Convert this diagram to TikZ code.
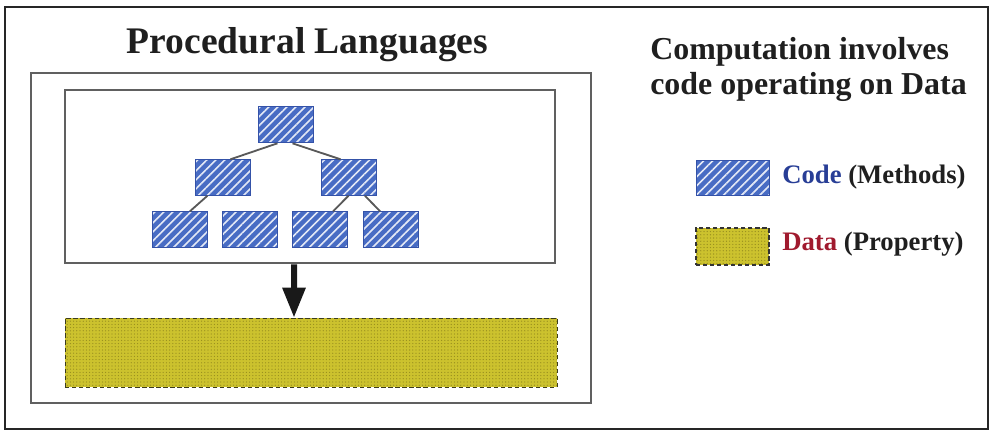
\documentclass[tikz,border=0pt]{standalone}
\usepackage{fontspec}
\setmainfont{Liberation Serif}
\usepackage{xcolor}
\usetikzlibrary{arrows.meta,positioning,patterns.meta}

\definecolor{codeblue}{RGB}{72,108,196}
\definecolor{codeedge}{RGB}{52,82,168}
\definecolor{datayellow}{RGB}{204,194,46}
\definecolor{datadot}{RGB}{150,140,30}
\definecolor{dataedge}{RGB}{60,60,30}
\definecolor{codetext}{RGB}{40,62,150}
\definecolor{datatext}{RGB}{160,26,46}
\definecolor{framegray}{RGB}{96,96,96}

\begin{document}
\begin{tikzpicture}[x=0.25mm, y=-0.25mm,
    codebox/.style={draw=codeedge, line width=0.3pt, inner sep=0pt,
        minimum width=13.75mm, minimum height=9mm,
        preaction={fill=codeblue},
        pattern={Lines[angle=45,distance=1.6mm,line width=0.4mm]},
        pattern color=white!85!codeblue},
    databox/.style={draw=dataedge, densely dashed, line width=0.5pt, inner sep=0pt,
        preaction={fill=datayellow},
        pattern={Dots[distance=0.8mm,radius=0.16mm]},
        pattern color=datadot},
    frame/.style={draw=framegray, line width=1.8pt, inner sep=0pt},
    link/.style={draw=black!65, line width=1.3pt}]
    \useasboundingbox (0,0) rectangle (990,430);

    % 外枠
    \draw[black!85, line width=1.1pt] (5,7) rectangle (988,429);

    % 見出し
    \node[anchor=base, inner sep=0pt, font=\bfseries\fontsize{26.7}{30}\selectfont,
        text=black!88] (title) at (307.5,53) {Procedural Languages};
    \node[anchor=north west, inner sep=0pt, align=left,
        font=\bfseries\fontsize{22.7}{24.9}\selectfont, text=black!88]
        (note) at (650,37) {Computation involves\\code operating on Data};

    % 枠
    \node[frame, minimum width=140mm, minimum height=82.5mm] (prog) at (311,238) {};
    \node[frame, minimum width=122.5mm, minimum height=43.25mm] (tree) at (310,176.5) {};

    % 層 0
    \node[codebox] (0) at (285.5,124.5) {};

    % 層 1
    \node[codebox] (1-0) at (222.5,177.5) {};
    \node[codebox] (1-1) at (348.5,177.5) {};

    % 層 2
    \node[codebox] (2-0) at (179.5,229.5) {};
    \node[codebox] (2-1) at (249.5,229.5) {};
    \node[codebox] (2-2) at (319.5,229.5) {};
    \node[codebox] (2-3) at (390.5,229.5) {};

    % 呼び出し
    \draw[link] ([xshift=-2mm]0.south) -- ([xshift=2mm]1-0.north);
    \draw[link] ([xshift=1.75mm]0.south) -- ([xshift=-2mm]1-1.north);
    \draw[link] ([xshift=-3.75mm]1-0.south) -- ([xshift=2.6mm]2-0.north);
    \draw[link] ([xshift=0mm]1-1.south) -- ([xshift=3.4mm]2-2.north);
    \draw[link] ([xshift=4.1mm]1-1.south) -- ([xshift=-2.6mm]2-3.north);

    % データ
    \node[databox, minimum width=123mm, minimum height=17.25mm] (bar) at (311,352.5) {};
    \draw[black!90, line width=1.5mm, -{Triangle[width=5.5mm,length=7.5mm]}]
        ([xshift=-4mm]tree.south) -- ([xshift=-4.25mm]bar.north);

    % 凡例
    \node[codebox, minimum width=18.25mm, minimum height=8.75mm] (codekey) at (732.5,177.5) {};
    \node[databox, line width=1pt, draw=black!80, minimum width=18.25mm,
        minimum height=9.25mm] (datakey) at (732.5,246.5) {};
    \node[anchor=base west, inner sep=0pt, font=\bfseries\fontsize{19}{22}\selectfont,
        text=black!88] (codelbl) at (782,183) {\textcolor{codetext}{Code} (Methods)};
    \node[anchor=base west, inner sep=0pt, font=\bfseries\fontsize{19}{22}\selectfont,
        text=black!88] (datalbl) at (782,250) {\textcolor{datatext}{Data} (Property)};
\end{tikzpicture}
\end{document}
